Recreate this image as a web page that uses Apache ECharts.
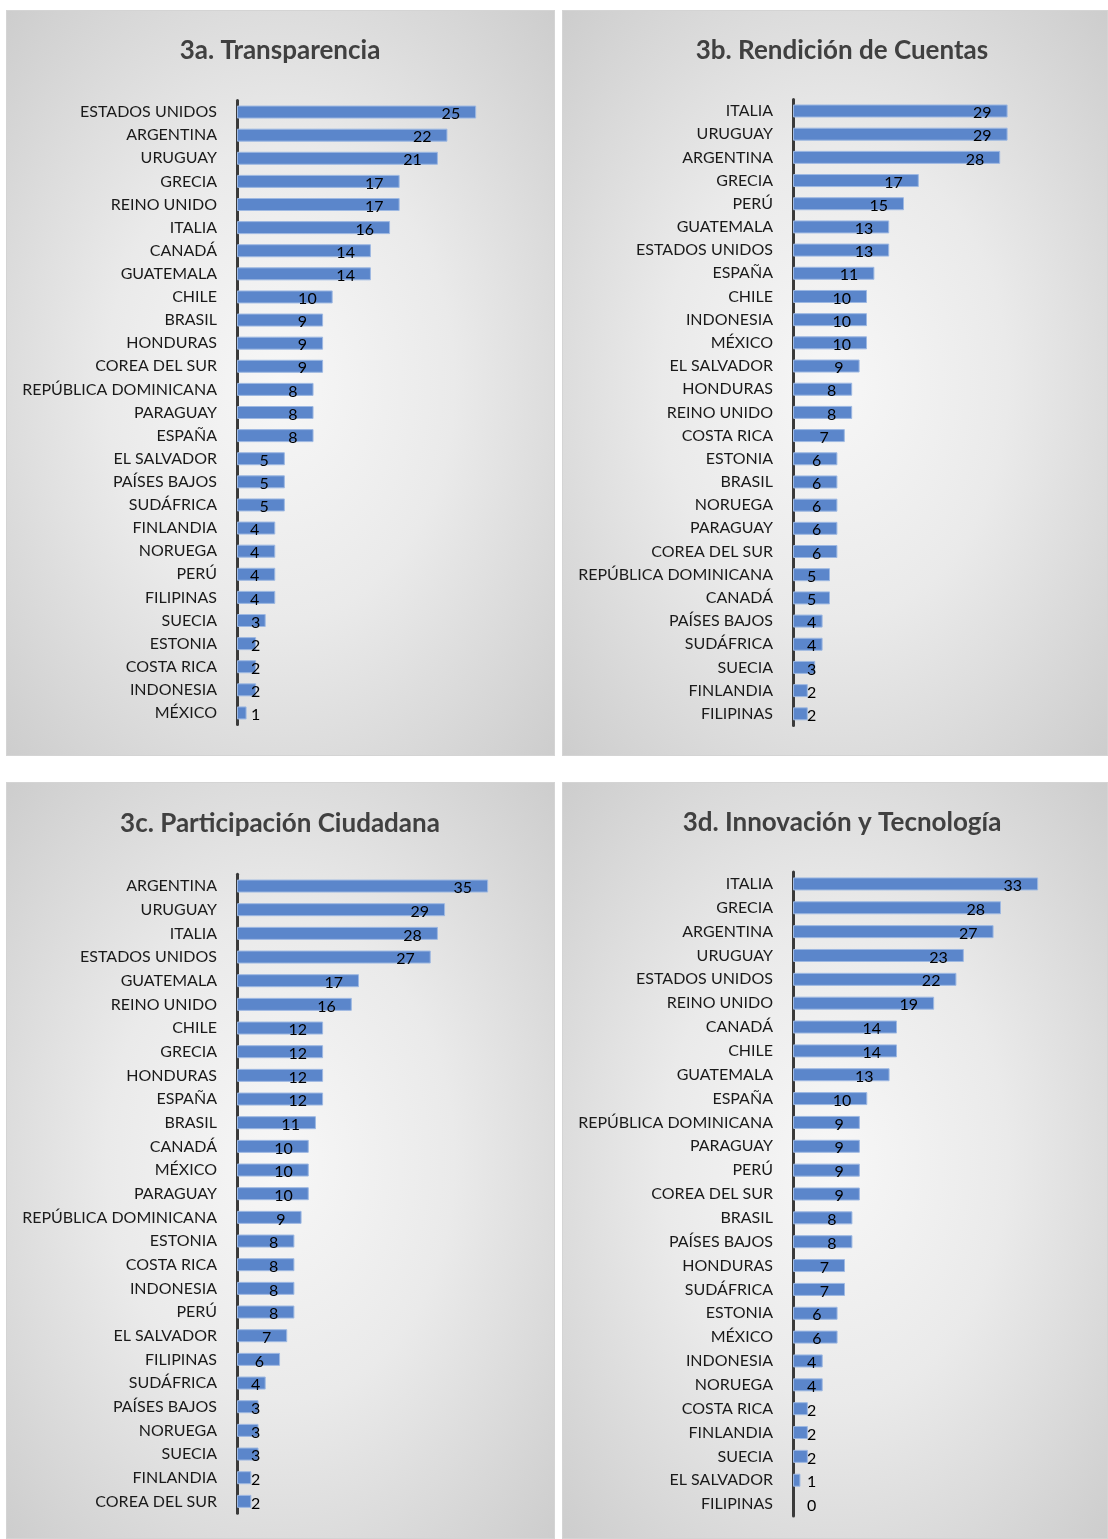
<!DOCTYPE html>
<html>
<head>
<meta charset="utf-8">
<script src="https://cdn.jsdelivr.net/npm/echarts@6/dist/echarts.min.js"></script>
<style>
  body { margin: 0; background: #fff; width: 1108px; height: 1539px; position: relative; overflow: hidden; }
  .panel { position: absolute; box-sizing: border-box; border: 1px solid #d4d4d4;
           background: radial-gradient(ellipse at center, #f7f7f7 0%, #eaeaea 45%, #cdcdcd 100%); }
</style>
</head>
<body>
<div id="pa" class="panel" style="left:6px;top:10px;width:549px;height:746px;"></div>
<div id="pb" class="panel" style="left:562px;top:10px;width:546px;height:746px;"></div>
<div id="pc" class="panel" style="left:6px;top:782px;width:549px;height:757px;"></div>
<div id="pd" class="panel" style="left:562px;top:782px;width:546px;height:757px;"></div>
<script>
// 3a. Transparencia
const paisesA = ['ESTADOS UNIDOS','ARGENTINA','URUGUAY','GRECIA','REINO UNIDO','ITALIA','CANADÁ','GUATEMALA','CHILE','BRASIL','HONDURAS','COREA DEL SUR','REPÚBLICA DOMINICANA','PARAGUAY','ESPAÑA','EL SALVADOR','PAÍSES BAJOS','SUDÁFRICA','FINLANDIA','NORUEGA','PERÚ','FILIPINAS','SUECIA','ESTONIA','COSTA RICA','INDONESIA','MÉXICO'];
const valoresA = [25,22,21,17,17,16,14,14,10,9,9,9,8,8,8,5,5,5,4,4,4,4,3,2,2,2,1];

// 3b. Rendición de Cuentas
const paisesB = ['ITALIA','URUGUAY','ARGENTINA','GRECIA','PERÚ','GUATEMALA','ESTADOS UNIDOS','ESPAÑA','CHILE','INDONESIA','MÉXICO','EL SALVADOR','HONDURAS','REINO UNIDO','COSTA RICA','ESTONIA','BRASIL','NORUEGA','PARAGUAY','COREA DEL SUR','REPÚBLICA DOMINICANA','CANADÁ','PAÍSES BAJOS','SUDÁFRICA','SUECIA','FINLANDIA','FILIPINAS'];
const valoresB = [29,29,28,17,15,13,13,11,10,10,10,9,8,8,7,6,6,6,6,6,5,5,4,4,3,2,2];

// 3c. Participación Ciudadana
const paisesC = ['ARGENTINA','URUGUAY','ITALIA','ESTADOS UNIDOS','GUATEMALA','REINO UNIDO','CHILE','GRECIA','HONDURAS','ESPAÑA','BRASIL','CANADÁ','MÉXICO','PARAGUAY','REPÚBLICA DOMINICANA','ESTONIA','COSTA RICA','INDONESIA','PERÚ','EL SALVADOR','FILIPINAS','SUDÁFRICA','PAÍSES BAJOS','NORUEGA','SUECIA','FINLANDIA','COREA DEL SUR'];
const valoresC = [35,29,28,27,17,16,12,12,12,12,11,10,10,10,9,8,8,8,8,7,6,4,3,3,3,2,2];

// 3d. Innovación y Tecnología
const paisesD = ['ITALIA','GRECIA','ARGENTINA','URUGUAY','ESTADOS UNIDOS','REINO UNIDO','CANADÁ','CHILE','GUATEMALA','ESPAÑA','REPÚBLICA DOMINICANA','PARAGUAY','PERÚ','COREA DEL SUR','BRASIL','PAÍSES BAJOS','HONDURAS','SUDÁFRICA','ESTONIA','MÉXICO','INDONESIA','NORUEGA','COSTA RICA','FINLANDIA','SUECIA','EL SALVADOR','FILIPINAS'];
const valoresD = [33,28,27,23,22,19,14,14,13,10,9,9,9,9,8,8,7,7,6,6,4,4,2,2,2,1,0];

const fuente = 'Lato, "Open Sans", sans-serif';

function dibujar(id, titulo, tx, ty, paises, valores, g) {
  const chart = echarts.init(document.getElementById(id));
  const pxPorUnidad = g.width / g.max;
  // etiqueta dentro del extremo, o junto al eje si la barra es corta
  const datos = valores.map(v => {
    const w = String(v).length * 8;
    const dentro = v * pxPorUnidad - 16 - w >= 14;
    const item = {
      value: v,
      label: dentro ? { position: 'insideRight', distance: 16 } : { position: 'insideLeft', distance: 14 }
    };
    if (v === 0) item.itemStyle = { borderWidth: 0 };
    return item;
  });
  chart.setOption({
    backgroundColor: 'transparent',
    animation: false,
    title: {
      text: titulo, left: tx, top: ty, textAlign: 'center',
      textStyle: { fontFamily: fuente, fontSize: 26, fontWeight: 'bold', color: '#404040' }
    },
    grid: { left: g.left, top: g.top, width: g.width, height: g.height, containLabel: false },
    xAxis: {
      type: 'value', min: 0, max: g.max,
      axisLine: { show: false }, axisTick: { show: false }, axisLabel: { show: false }, splitLine: { show: false }
    },
    yAxis: {
      type: 'category', data: paises, inverse: true,
      axisLine: { show: true, lineStyle: { color: '#3a3a3a', width: 3 } },
      axisTick: { show: false },
      axisLabel: { fontFamily: fuente, fontSize: 16, color: '#1a1a1a', margin: 20 }
    },
    series: [{
      type: 'bar', data: datos, barWidth: 13,
      itemStyle: { color: '#5b86cb', borderColor: '#9db8e2', borderWidth: 1 },
      label: { show: true, fontFamily: fuente, fontSize: 16, color: '#000', offset: [0, 2] }
    }]
  });
}

dibujar('pa', '3a. Transparencia', 268, 22, paisesA, valoresA, { left: 230, top: 89.5, width: 287, height: 624, max: 30 });
dibujar('pb', '3b. Rendición de Cuentas', 274, 22, paisesB, valoresB, { left: 230, top: 88.4, width: 222, height: 626, max: 30 });
dibujar('pc', '3c. Participación Ciudadana', 268, 23, paisesC, valoresC, { left: 230, top: 91.2, width: 287, height: 639, max: 40 });
dibujar('pd', '3d. Innovación y Tecnología', 274, 22, paisesD, valoresD, { left: 230, top: 89, width: 260, height: 644, max: 35 });
</script>
</body>
</html>
